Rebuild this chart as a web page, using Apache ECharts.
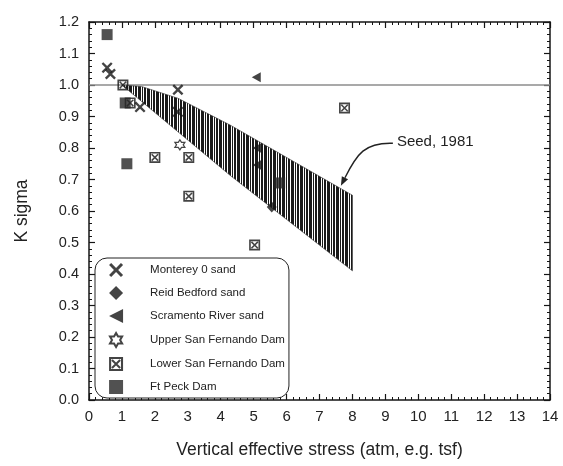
<!DOCTYPE html>
<html><head><meta charset="utf-8">
<script src="https://cdn.jsdelivr.net/npm/echarts@6/dist/echarts.min.js"></script>
<style>html,body{margin:0;padding:0;background:#fff}#c{width:563px;height:466px}</style>
</head><body><div id="c"></div>
<script>
// ---- data ----
const seriesNames = ['Monterey 0 sand','Reid Bedford sand','Scramento River sand','Upper San Fernando Dam','Lower San Fernando Dam','Ft Peck Dam'];
const montereyX = [[0.55,1.055],[0.65,1.035],[1.55,0.93],[2.7,0.985],[2.7,0.915]];
const reidBedford = [[5.55,0.613]];
const scramento = [[5.08,1.025],[5.1,0.80],[5.1,0.746]];
const upperSF = [[2.76,0.81]];
const lowerSF = [[1.03,1.0],[1.25,0.943],[2.0,0.77],[3.03,0.77],[3.03,0.647],[5.03,0.492],[7.76,0.927]];
const ftPeck = [[0.55,1.16],[1.1,0.943],[1.15,0.75],[5.79,0.689]];
const seedUpper = [[1.0,1.0],[1.6,0.995],[2.7,0.958],[4.3,0.872],[8.0,0.65]];
const seedLower = [[1.0,1.0],[4.3,0.712],[8.0,0.41]];
const refLevel = 1.0;
const seedLabel = 'Seed, 1981';
const seedLabelAt = [9.35, 0.815];
const seedArrowTip = [7.65, 0.68];
const xTitle = 'Vertical effective stress (atm, e.g. tsf)';
const yTitle = 'K sigma';

// ---- symbols ----
const symX = 'path://M0,1.5L1.5,0L5,3.5L8.5,0L10,1.5L6.5,5L10,8.5L8.5,10L5,6.5L1.5,10L0,8.5L3.5,5Z';
const symTriLeft = 'path://M0,5L10,0L10,10Z';
const symStar = 'path://M5,0L6.443,2.5L9.33,2.5L7.887,5L9.33,7.5L6.443,7.5L5,10L3.557,7.5L0.67,7.5L2.113,5L0.67,2.5L3.557,2.5Z';
const symBoxX = 'path://M0,0H10V10H0Z M1.5,1.5V8.5H8.5V1.5Z M2.6,1.6L8.4,7.4L7.4,8.4L1.6,2.6Z M7.4,1.6L8.4,2.6L2.6,8.4L1.6,7.4Z';

// hatch pattern for the band
const pc = document.createElement('canvas');
pc.width = 9; pc.height = 4;
const pctx = pc.getContext('2d');
pctx.fillStyle = '#fff'; pctx.fillRect(0,0,9,4);
pctx.fillStyle = '#1a1a1a';
[0,1,3,4,5,7].forEach(x => pctx.fillRect(x,0,1,4));
const hatch = {image: pc, repeat: 'repeat'};

const FONT = 'Liberation Sans, Arial, sans-serif';
const ink = '#151515';
const axisLine = {lineStyle:{color:ink,width:1.5}};

const chart = echarts.init(document.getElementById('c'), null, {renderer:'canvas'});
const mkX = (pos, show) => ({
  type:'value', position:pos, min:0, max:14, interval:1,
  axisLine: Object.assign({onZero:false}, axisLine),
  axisTick:{inside:true, length:6, lineStyle:{color:ink,width:1.2}},
  minorTick:{show:true, splitNumber:5, length:3, lineStyle:{color:ink,width:1}},
  splitLine:{show:false},
  axisLabel:{show:show, fontSize:15, color:'#222', margin:9, fontFamily:FONT},
  name: show ? xTitle : '', nameLocation:'middle', nameGap:41,
  nameTextStyle:{fontSize:17.5, color:'#222', fontFamily:FONT}
});
const mkY = (pos, show) => ({
  type:'value', position:pos, min:0, max:1.2, interval:0.1,
  axisLine: Object.assign({onZero:false}, axisLine),
  axisTick:{inside:true, length:6, lineStyle:{color:ink,width:1.2}},
  minorTick:{show:true, splitNumber:5, length:3, lineStyle:{color:ink,width:1}},
  splitLine:{show:false},
  axisLabel:{show:show, fontSize:14.5, color:'#222', margin:10, fontFamily:FONT,
    formatter: v => v.toFixed(1)},
  name: show ? yTitle : '', nameLocation:'middle', nameGap:58,
  nameTextStyle:{fontSize:17.5, color:'#222', fontFamily:FONT}
});

const scatterBase = {type:'scatter', z:4, xAxisIndex:0, yAxisIndex:0};
chart.setOption({
  animation:false,
  backgroundColor:'#fff',
  textStyle:{fontFamily:FONT},
  grid:{left:89, right:13, top:22, bottom:66, containLabel:false},
  xAxis:[mkX('bottom', true), mkX('top', false)],
  yAxis:[mkY('left', true), mkY('right', false)],
  legend:{
    data: seriesNames, orient:'vertical', left:95, top:258,
    padding:[5,4,4,14], itemGap:9, itemWidth:14, itemHeight:14,
    backgroundColor:'#fff', borderColor:'#222', borderWidth:1, borderRadius:12,
    textStyle:{fontSize:11.5, color:'#222', fontFamily:FONT, padding:[0,0,0,22]},
    selectedMode:false
  },
  series:[
    {type:'custom', name:'Seed', z:2, xAxisIndex:0, yAxisIndex:0, silent:true,
     data:[seedUpper[0]],
     renderItem:(params, api) => {
       const pts = seedUpper.concat(seedLower.slice().reverse()).map(p => api.coord(p));
       return {type:'polygon', shape:{points:pts}, style:{fill:hatch, stroke:'#333', lineWidth:0.6}};
     },
     markLine:{silent:true, symbol:'none', label:{show:false}, z:1,
       lineStyle:{color:'#8c8c8c', width:1.5, type:'solid'},
       data:[{yAxis:refLevel}]}
    },
    Object.assign({}, scatterBase, {name:seriesNames[0], data:montereyX, symbol:symX, symbolSize:11,
      itemStyle:{color:ink}}),
    Object.assign({}, scatterBase, {name:seriesNames[1], data:reidBedford, symbol:'diamond', symbolSize:[10,11],
      itemStyle:{color:ink}}),
    Object.assign({}, scatterBase, {name:seriesNames[2], data:scramento, symbol:symTriLeft, symbolSize:[9,10],
      itemStyle:{color:ink}}),
    Object.assign({}, scatterBase, {name:seriesNames[3], data:upperSF, symbol:symStar, symbolSize:10,
      itemStyle:{color:'#fff', borderColor:ink, borderWidth:1.2}}),
    Object.assign({}, scatterBase, {name:seriesNames[4], data:lowerSF, symbol:symBoxX, symbolSize:11,
      itemStyle:{color:ink}}),
    Object.assign({}, scatterBase, {name:seriesNames[5], data:ftPeck, symbol:'rect', symbolSize:11,
      itemStyle:{color:'#262626'}})
  ]
});

// annotation "Seed, 1981" with curved arrow, positioned in data coordinates
const lp = chart.convertToPixel({gridIndex:0}, seedLabelAt);
const tp = chart.convertToPixel({gridIndex:0}, seedArrowTip);
const s = [lp[0]-4, lp[1]];
const hx = tp[0], hy = tp[1];
const dirx = -0.45, diry = 0.89; // arrow direction (down-left)
const L = 9, W = 3.5;
const bx = hx - dirx*L, by = hy - diry*L;
chart.setOption({graphic:[
  {type:'text', left:lp[0], top:lp[1]-9, style:{text:seedLabel, fontSize:15, fill:'#222', font:'15px '+FONT}},
  {type:'bezierCurve', shape:{x1:s[0], y1:s[1], cpx1:s[0]-28, cpy1:s[1]-1, cpx2:bx+12, cpy2:by-24, x2:bx, y2:by},
   style:{stroke:'#222', lineWidth:1.4, fill:null}},
  {type:'polygon', shape:{points:[[hx,hy],[bx - diry*W, by + dirx*W],[bx + diry*W, by - dirx*W]]},
   style:{fill:'#222'}}
]});
</script></body></html>
